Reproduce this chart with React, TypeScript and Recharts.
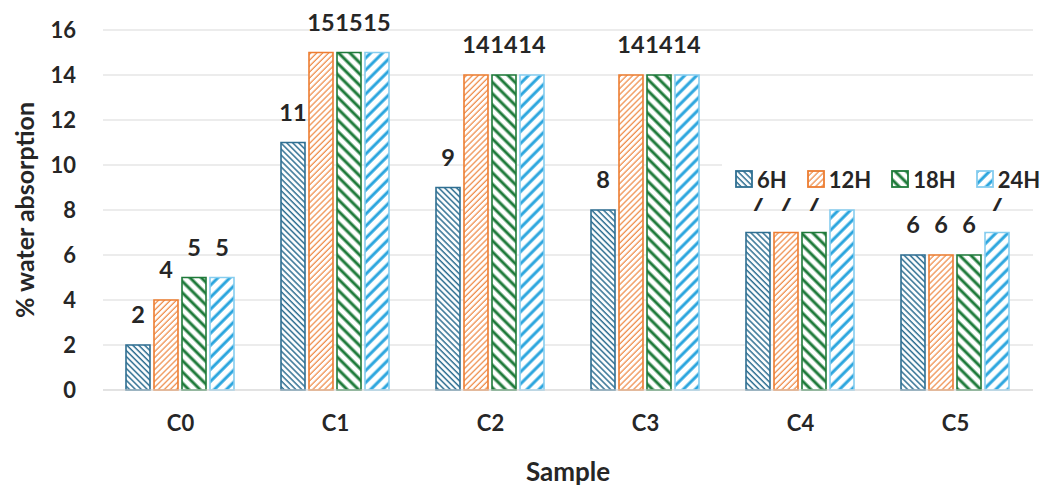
import React from 'react'
import { Bar, BarChart, CartesianGrid, LabelList, Legend, XAxis, YAxis } from 'recharts'

const categories = ['C0', 'C1', 'C2', 'C3', 'C4', 'C5']
const h6 = [2, 11, 9, 8, 7, 6]
const h12 = [4, 15, 14, 14, 7, 6]
const h18 = [5, 15, 14, 14, 7, 6]
const h24 = [5, 15, 14, 14, 8, 7]
const yTicks = [0, 2, 4, 6, 8, 10, 12, 14, 16]

const series = [
  { key: 'h6', name: '6H', stroke: '#2f6f92', pattern: 'pat6' },
  { key: 'h12', name: '12H', stroke: '#ed7d31', pattern: 'pat12' },
  { key: 'h18', name: '18H', stroke: '#1e7a3a', pattern: 'pat18' },
  { key: 'h24', name: '24H', stroke: '#86cdef', pattern: 'pat24' },
]

const data = categories.map((c, i) => ({ sample: c, h6: h6[i], h12: h12[i], h18: h18[i], h24: h24[i] }))

const FONT = 'Lato, "Open Sans", sans-serif'
const TEXT = '#262626'

function Patterns() {
  return (
    <defs>
      <pattern id="pat6" width="4.2" height="10" patternUnits="userSpaceOnUse" patternTransform="rotate(-45)">
        <rect width="4.2" height="10" fill="#fff" />
        <line x1="1" y1="0" x2="1" y2="10" stroke="#2f6f92" strokeWidth="1.5" />
      </pattern>
      <pattern id="pat12" width="4.2" height="10" patternUnits="userSpaceOnUse" patternTransform="rotate(45)">
        <rect width="4.2" height="10" fill="#fff" />
        <line x1="1" y1="0" x2="1" y2="10" stroke="#ed7d31" strokeWidth="1.1" />
      </pattern>
      <pattern id="pat18" width="8" height="10" patternUnits="userSpaceOnUse" patternTransform="rotate(-45)">
        <rect width="8" height="10" fill="#fff" />
        <line x1="2" y1="0" x2="2" y2="10" stroke="#1e7a3a" strokeWidth="3" />
      </pattern>
      <pattern id="pat24" width="8.5" height="10" patternUnits="userSpaceOnUse" patternTransform="rotate(45)">
        <rect width="8.5" height="10" fill="#fff" />
        <line x1="2" y1="0" x2="2" y2="10" stroke="#2aa5de" strokeWidth="3" />
      </pattern>
    </defs>
  )
}

function YTitle(props: any) {
  const vb = props.viewBox || { x: 0, y: 30, width: 103, height: 360 }
  const cx = 24
  const cy = vb.y + vb.height / 2
  return (
    <text
      x={cx}
      y={cy}
      transform={`rotate(-90 ${cx} ${cy})`}
      textAnchor="middle"
      dominantBaseline="central"
      fill={TEXT}
      fontFamily={FONT}
      fontWeight={700}
      fontSize={25}
    >
      % water absorption
    </text>
  )
}

function LegendBox() {
  return (
    <div style={{ display: 'flex', alignItems: 'center', height: 38, paddingLeft: 13, background: '#fff', fontFamily: FONT, fontWeight: 700, fontSize: 22, color: TEXT }}>
      {series.map((s) => (
        <div key={s.key} style={{ display: 'flex', alignItems: 'center', marginRight: 20 }}>
          <svg width={18} height={18} style={{ marginRight: 4 }}>
            <rect x={1} y={1} width={16} height={16} fill={`url(#${s.pattern})`} stroke={s.stroke} strokeWidth={1.8} />
          </svg>
          <span>{s.name}</span>
        </div>
      ))}
    </div>
  )
}

export default function App() {
  return (
    <div style={{ position: 'absolute', left: 0, top: 0, width: 1051, height: 487, background: '#fff' }}>
      <BarChart
        width={1051}
        height={487}
        data={data}
        margin={{ top: 30, right: 18, bottom: 0, left: 0 }}
        barCategoryGap={23}
        barGap={4}
      >
        <Patterns />
        <CartesianGrid stroke="#d9d9d9" vertical={false} />
        <XAxis
          dataKey="sample"
          height={97}
          tickSize={0}
          tickMargin={25}
          axisLine={{ stroke: '#d9d9d9' }}
          tickLine={false}
          tick={{ fill: TEXT, fontFamily: FONT, fontWeight: 700, fontSize: 22 }}
          label={{ value: 'Sample', position: 'insideBottom', offset: 6, fill: TEXT, fontFamily: FONT, fontWeight: 700, fontSize: 26 }}
        />
        <YAxis
          width={103}
          domain={[0, 16]}
          ticks={yTicks}
          tickSize={0}
          tickMargin={27}
          axisLine={false}
          tickLine={false}
          tick={{ fill: TEXT, fontFamily: FONT, fontWeight: 700, fontSize: 22 }}
          label={<YTitle />}
        />
        <Legend
          layout="horizontal"
          verticalAlign="middle"
          align="center"
          content={<LegendBox />}
          wrapperStyle={{ position: 'absolute', left: 722, top: 160, width: 329, height: 38 }}
        />
        {series.map((s) => (
          <Bar key={s.key} dataKey={s.key} name={s.name} fill={`url(#${s.pattern})`} stroke={s.stroke} strokeWidth={1.6} isAnimationActive={false}>
            <LabelList dataKey={s.key} position="top" offset={22} fill={TEXT} fontFamily={FONT} fontWeight={700} fontSize={23.5} />
          </Bar>
        ))}
      </BarChart>
    </div>
  )
}
